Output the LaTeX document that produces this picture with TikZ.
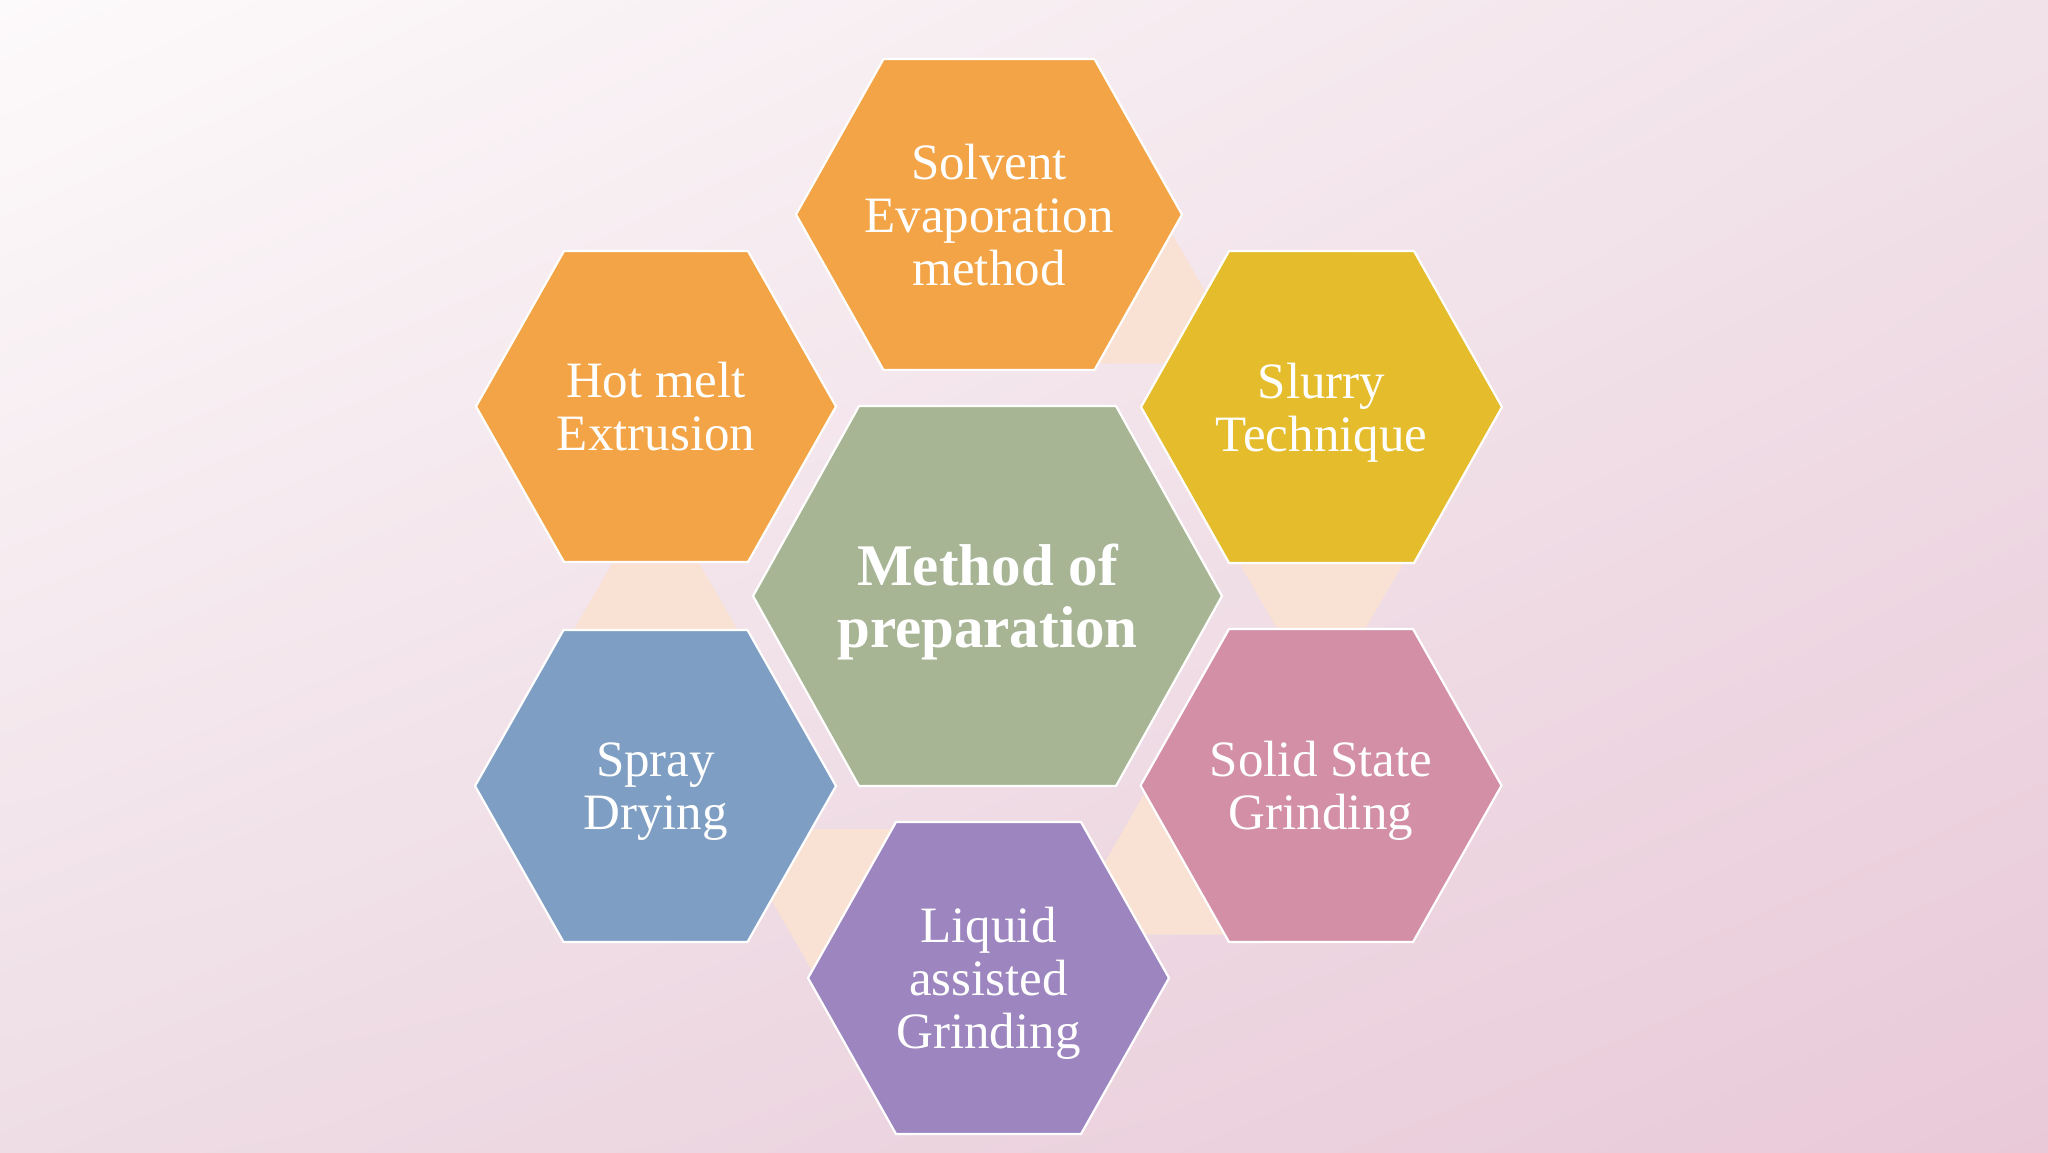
\documentclass[tikz,border=0pt]{standalone}
\usepackage{fontspec}
\setmainfont{Liberation Serif}
\usetikzlibrary{calc,shadings}
\definecolor{bgTL}{RGB}{253,250,251}
\definecolor{bgTR}{RGB}{241,226,233}
\definecolor{bgBL}{RGB}{238,221,229}
\definecolor{bgBR}{RGB}{233,201,216}
\definecolor{hexorange}{RGB}{242,164,70}
\definecolor{hexyellow}{RGB}{228,188,44}
\definecolor{hexgreen}{RGB}{167,181,149}
\definecolor{hexblue}{RGB}{127,158,195}
\definecolor{hexpurple}{RGB}{157,133,191}
\definecolor{hexpink}{RGB}{210,143,166}
\definecolor{peach}{RGB}{249,226,212}
\pgfdeclarelayer{back}
\pgfdeclarelayer{links}
\pgfdeclarelayer{hexes}
\pgfsetlayers{back,links,hexes,main}
\tikzset{
  hexfill/.style={draw=white, line width=1.1pt, line join=miter},
  hexlabel/.style={text=white, align=center, inner sep=0pt, text depth=0pt,
    font=\fontsize{25.5}{26.5}\selectfont},
  ctrlabel/.style={text=white, align=center, inner sep=0pt, text depth=0pt,
    font=\bfseries\fontsize{29.5}{31}\selectfont},
  linkfill/.style={fill=peach},
}
% name, top half-width, half-width, half-height, colour
\newcommand\hexshape[5]{%
  \filldraw[hexfill, fill=#5] ($(#1)+(-#2,-#4)$) -- ($(#1)+(#2,-#4)$) -- ($(#1)+(#3,0)$)
    -- ($(#1)+(#2,#4)$) -- ($(#1)+(-#2,#4)$) -- ($(#1)+(-#3,0)$) -- cycle;}
% from, to
\newcommand\linktri[2]{%
  \fill[linkfill] ($(#1)!30pt!(#2)!68.7pt!90:(#2)$) -- ($(#1)!149pt!(#2)$)
    -- ($(#1)!30pt!(#2)!68.7pt!-90:(#2)$) -- cycle;}
\begin{document}
\begin{tikzpicture}[x=0.5pt,y=-0.5pt]
\useasboundingbox (0,0) rectangle (2048,1152);
\begin{pgfonlayer}{back}
  \shade[upper left=bgTL, upper right=bgTR, lower left=bgBL, lower right=bgBR]
    (0,0) rectangle (2048,1152);
\end{pgfonlayer}

\node[hexlabel] (solv)  at (989,214.5)  {Solvent\\Evaporation\\method};
\node[hexlabel] (hot)   at (656,406.5)  {Hot melt\\Extrusion};
\node[hexlabel] (slur)  at (1321.5,407) {Slurry\\Technique};
\node[hexlabel] (spray) at (655.5,786)  {Spray\\Drying};
\node[hexlabel] (solid) at (1321,785.5) {Solid State\\Grinding};
\node[hexlabel] (liq)   at (988.5,978)  {Liquid\\assisted\\Grinding};
\node[ctrlabel] (ctr)   at (987.5,596)  {Method of\\preparation};

\begin{pgfonlayer}{links}
  \linktri{solv}{slur}
  \linktri{slur}{solid}
  \linktri{solid}{liq}
  \linktri{liq}{spray}
  \linktri{spray}{hot}
\end{pgfonlayer}

\begin{pgfonlayer}{hexes}
  \hexshape{solv}{105.5}{193}{155.5}{hexorange}
  \hexshape{hot}{92}{180}{155.5}{hexorange}
  \hexshape{slur}{92.5}{180.5}{156}{hexyellow}
  \hexshape{spray}{92}{180.5}{156}{hexblue}
  \hexshape{solid}{92}{180.5}{156.5}{hexpink}
  \hexshape{liq}{92.5}{180.5}{156}{hexpurple}
  \hexshape{ctr}{128.5}{234.5}{190}{hexgreen}
\end{pgfonlayer}
\end{tikzpicture}
\end{document}
